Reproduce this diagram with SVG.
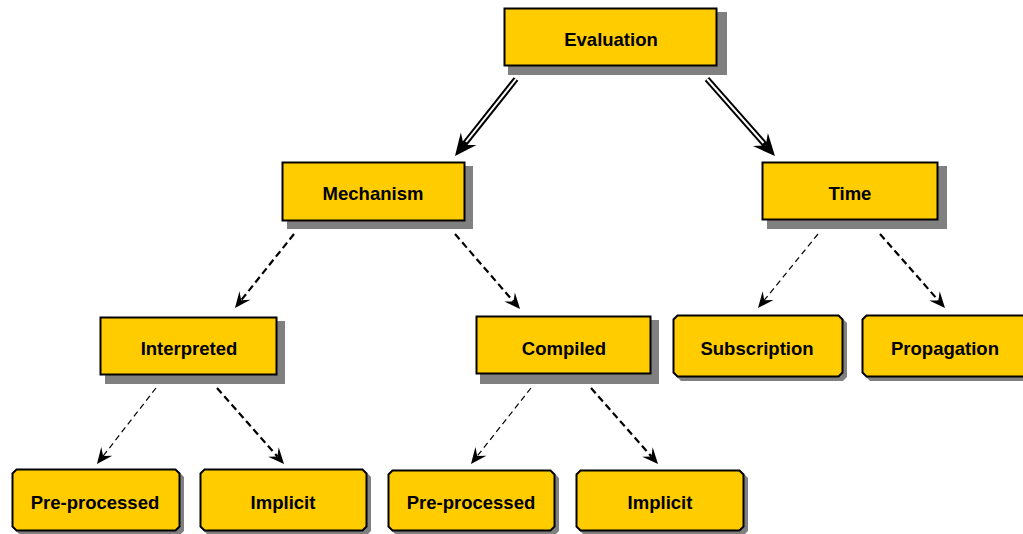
<svg xmlns="http://www.w3.org/2000/svg" width="1023" height="534" viewBox="0 0 1023 534">
  <style>
    .box { fill: #FFCC00; stroke: #000; stroke-width: 2; }
    .shadow { fill: #808080; stroke: none; }
    .label { font-family: "Liberation Sans", Arial, sans-serif; font-weight: bold; font-size: 18.5px; fill: #000; text-anchor: middle; }
    .dbl-outer { stroke: #000; stroke-width: 6; fill: none; }
    .dbl-inner { stroke: #fff; stroke-width: 2; fill: none; }
    .dash-thin { stroke: #000; stroke-width: 1.2; stroke-dasharray: 6 4; fill: none; }
    .dash-thick { stroke: #000; stroke-width: 2.2; stroke-dasharray: 7 4; fill: none; }
  </style>
  <defs>
    <!-- barbed arrowheads; the line end sits at the concave back point -->
    <marker id="headBig" markerUnits="userSpaceOnUse" viewBox="-24 -12 26 24" markerWidth="26" markerHeight="24" refX="-14" refY="0" orient="auto">
      <path d="M0,0 L-22,-10 L-14,0 L-22,10 Z" fill="#000"/>
    </marker>
    <marker id="headSmall" markerUnits="userSpaceOnUse" viewBox="-18 -9 20 18" markerWidth="20" markerHeight="18" refX="-10" refY="0" orient="auto">
      <path d="M0,0 L-16,-7 L-10,0 L-16,7 Z" fill="#000"/>
    </marker>
  </defs>

  <rect width="1023" height="534" fill="#fff"/>

  <!-- connectors -->
  <g id="connectors">
    <line class="dbl-outer" x1="516" y1="79" x2="463.7" y2="145" marker-end="url(#headBig)"/>
    <line class="dbl-inner" x1="516" y1="79" x2="466" y2="142"/>
    <line class="dbl-outer" x1="707" y1="79" x2="765.7" y2="145.5" marker-end="url(#headBig)"/>
    <line class="dbl-inner" x1="707" y1="79" x2="763.5" y2="143"/>

    <line class="dash-thick" x1="294" y1="234" x2="241.2" y2="300.2" marker-end="url(#headSmall)"/>
    <line class="dash-thick" x1="455" y1="234" x2="513.5" y2="301.5" marker-end="url(#headSmall)"/>
    <line class="dash-thin" x1="818" y1="234" x2="764.3" y2="300.2" marker-end="url(#headSmall)"/>
    <line class="dash-thick" x1="880" y1="234" x2="938.4" y2="300.5" marker-end="url(#headSmall)"/>

    <line class="dash-thin" x1="156" y1="388" x2="103.1" y2="456.1" marker-end="url(#headSmall)"/>
    <line class="dash-thick" x1="217" y1="388" x2="277.4" y2="456.5" marker-end="url(#headSmall)"/>
    <line class="dash-thin" x1="531" y1="388" x2="477.2" y2="456.1" marker-end="url(#headSmall)"/>
    <line class="dash-thick" x1="591" y1="388" x2="651.4" y2="456.5" marker-end="url(#headSmall)"/>
  </g>

  <!-- rectangular nodes -->
  <g id="evaluation">
    <rect class="shadow" x="508" y="12" width="219" height="63"/>
    <rect class="box" x="504.5" y="8.5" width="212" height="57"/>
    <text class="label" x="611" y="46">Evaluation</text>
  </g>
  <g id="mechanism">
    <rect class="shadow" x="287" y="166" width="186" height="63"/>
    <rect class="box" x="282.5" y="162.5" width="182" height="58"/>
    <text class="label" x="373" y="200">Mechanism</text>
  </g>
  <g id="time">
    <rect class="shadow" x="767" y="166" width="180" height="63"/>
    <rect class="box" x="762.5" y="162.5" width="175" height="57"/>
    <text class="label" x="850" y="200">Time</text>
  </g>
  <g id="interpreted">
    <rect class="shadow" x="105" y="321" width="180" height="63"/>
    <rect class="box" x="100.5" y="317.5" width="176" height="57"/>
    <text class="label" x="189" y="355">Interpreted</text>
  </g>
  <g id="compiled">
    <rect class="shadow" x="480" y="320" width="179" height="64"/>
    <rect class="box" x="476.5" y="316.5" width="174" height="57"/>
    <text class="label" x="564" y="355">Compiled</text>
  </g>

  <!-- leaf nodes with chamfered corners -->
  <g id="subscription">
    <path class="shadow" d="M681,319 H843 L847,323 V377 L843,381 H681 L677,377 V323 Z"/>
    <path class="box" d="M677.5,315.5 H838.5 L842.5,319.5 V372.5 L838.5,376.5 H677.5 L673.5,372.5 V319.5 Z"/>
    <text class="label" x="757" y="355">Subscription</text>
  </g>
  <g id="propagation">
    <path class="shadow" d="M870,319 H1032 L1036,323 V377 L1032,381 H870 L866,377 V323 Z"/>
    <path class="box" d="M866.5,315.5 H1027.5 L1031.5,319.5 V372.5 L1027.5,376.5 H866.5 L862.5,372.5 V319.5 Z"/>
    <text class="label" x="945" y="355">Propagation</text>
  </g>
  <g id="preprocessed-interpreted">
    <path class="shadow" d="M20,473 H180 L184,477 V531 L180,535 H20 L16,531 V477 Z"/>
    <path class="box" d="M16.5,469.5 H175.5 L179.5,473.5 V526.5 L175.5,530.5 H16.5 L12.5,526.5 V473.5 Z"/>
    <text class="label" x="95" y="509">Pre-processed</text>
  </g>
  <g id="implicit-interpreted">
    <path class="shadow" d="M208,473 H367 L371,477 V531 L367,535 H208 L204,531 V477 Z"/>
    <path class="box" d="M204.5,469.5 H362.5 L366.5,473.5 V526.5 L362.5,530.5 H204.5 L200.5,526.5 V473.5 Z"/>
    <text class="label" x="283" y="509">Implicit</text>
  </g>
  <g id="preprocessed-compiled">
    <path class="shadow" d="M396,474 H555 L559,478 V531 L555,535 H396 L392,531 V478 Z"/>
    <path class="box" d="M392.5,470.5 H550.5 L554.5,474.5 V526.5 L550.5,530.5 H392.5 L388.5,526.5 V474.5 Z"/>
    <text class="label" x="471" y="509">Pre-processed</text>
  </g>
  <g id="implicit-compiled">
    <path class="shadow" d="M584,474 H744 L748,478 V531 L744,535 H584 L580,531 V478 Z"/>
    <path class="box" d="M580.5,470.5 H739.5 L743.5,474.5 V526.5 L739.5,530.5 H580.5 L576.5,526.5 V474.5 Z"/>
    <text class="label" x="660" y="509">Implicit</text>
  </g>
</svg>
